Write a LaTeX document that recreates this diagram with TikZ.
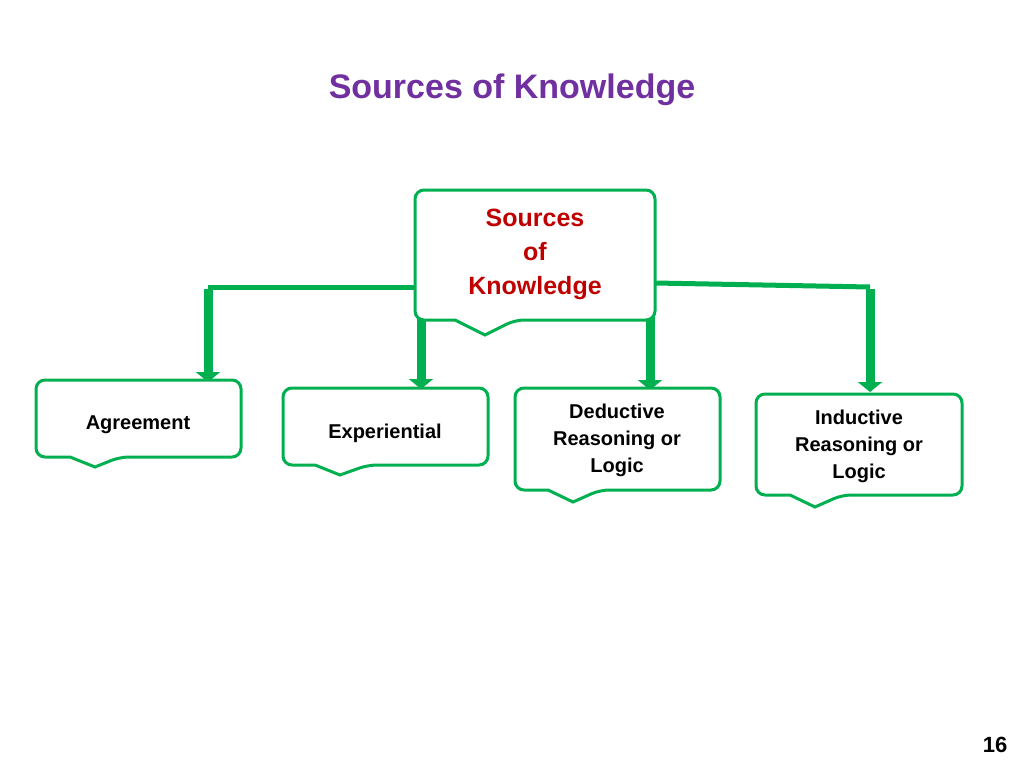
\documentclass[tikz,border=0pt]{standalone}
\usepackage{fontspec}
\setmainfont{Liberation Sans}
\usetikzlibrary{arrows.meta}
\definecolor{gr}{RGB}{0,176,80}
\definecolor{pur}{RGB}{112,48,160}
\definecolor{rd}{RGB}{192,0,0}
\begin{document}
\begin{tikzpicture}[x=1pt,y=-1pt,
 callout/.style={draw=gr,line width=3pt,fill=white,rounded corners=9pt},
 lbl/.style={font=\bfseries\fontsize{20}{27}\selectfont,align=center},
 hline/.style={draw=gr,line width=5pt},
 varr/.style={draw=gr,line width=9pt,-{Triangle[width=24pt,length=10pt]}}]
\useasboundingbox (0,0) rectangle (1024,768);
\node[font=\bfseries\fontsize{34}{40}\selectfont,text=pur] (title) at (512,90) {Sources of Knowledge};
\node[font=\bfseries\fontsize{22}{26}\selectfont] (pg) at (995,745) {16};
% connectors
\coordinate (cl) at (415,287); \coordinate (cr) at (655,283);
\coordinate (l1) at (208,287); \coordinate (r1) at (870,287);
\coordinate (a1) at (208,382); \coordinate (a4) at (870,392);
\coordinate (s2) at (421,318); \coordinate (a2) at (421,389);
\coordinate (s3) at (650,312); \coordinate (a3) at (650,390);
\draw[hline] (cl) -- (l1);
\draw[hline] (cr) -- (r1);
\draw[varr] ([yshift=-2pt]l1) -- (a1);
\draw[varr] ([yshift=-2pt]r1) -- (a4);
\draw[varr] (s2) -- (a2);
\draw[varr] (s3) -- (a3);
% central
\draw[callout] (455,320) -- (415,320) -- (415,190) -- (655,190) -- (655,320) -- (515,320) [sharp corners] -- (485,335) -- (455,320) -- cycle;
\node[font=\bfseries\fontsize{25}{34}\selectfont,text=rd,align=center] (src) at (535,254) {Sources\\of\\Knowledge};
% boxes
\draw[callout] (70,457) -- (36,457) -- (36,380) -- (241,380) -- (241,457) -- (120,457) [sharp corners] -- (95,467) -- (70,457) -- cycle;
\node[lbl] (agr) at (138,425) {Agreement};
\draw[callout] (315,465) -- (283,465) -- (283,388) -- (488,388) -- (488,465) -- (368,465) [sharp corners] -- (340,475) -- (315,465) -- cycle;
\node[lbl] (exp) at (385,433) {Experiential};
\draw[callout] (548,490) -- (515,490) -- (515,388) -- (720,388) -- (720,490) -- (600,490) [sharp corners] -- (573,502) -- (548,490) -- cycle;
\node[lbl] (ded) at (617,440) {Deductive\\Reasoning or\\Logic};
\draw[callout] (790,495) -- (756,495) -- (756,394) -- (962,394) -- (962,495) -- (842,495) [sharp corners] -- (815,507) -- (790,495) -- cycle;
\node[lbl] (ind) at (859,446) {Inductive\\Reasoning or\\Logic};
\end{tikzpicture}
\end{document}
